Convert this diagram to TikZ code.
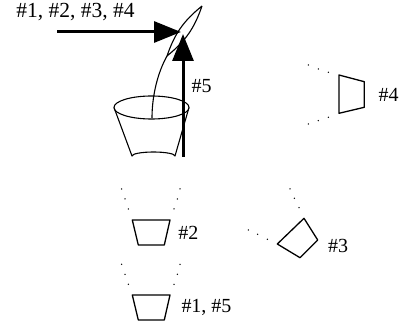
\documentclass[tikz,border=0pt]{standalone}
\usepackage{fontspec}
\setmainfont{Liberation Serif}
\usetikzlibrary{arrows.meta}
\begin{document}
\begin{tikzpicture}[x=1pt,y=-1pt,
  lbl/.style={inner sep=0pt,anchor=base,font=\fontsize{20}{22}\selectfont},
  biglbl/.style={lbl,font=\fontsize{21.5}{24}\selectfont},
  potline/.style={line width=1.3pt,line join=round},
  dotmark/.style={fill=black,radius=0.75},
  bigarrow/.style={line width=3pt,-{Triangle[length=27pt,width=21pt]}}]
\useasboundingbox (0,0) rectangle (400,329);

% plant: leaf and stem
\coordinate (leaftip) at (202,6);
\coordinate (leafbase) at (167,56);
\coordinate (stemfoot) at (152,118);
\draw[line width=1.1pt,fill=white] (leaftip) to[bend left=16] (leafbase) to[bend left=16] (leaftip);
\draw[line width=1.1pt] (leafbase) .. controls (158,72) and (152,95) .. (stemfoot);

% pot
\coordinate (rimL) at (114,107.5);
\coordinate (rimR) at (189,107.5);
\draw[line width=1.1pt] (151.5,107.5) ellipse[x radius=37.5,y radius=11.5];
\draw[line width=1.1pt,line join=round] (rimL) -- (132,156) arc[start angle=180,end angle=360,x radius=21.5,y radius=4] -- (rimR);

% incident light arrows
\coordinate (hstart) at (57,32);
\coordinate (hend) at (181,32);
\coordinate (vstart) at (183,157);
\coordinate (vend) at (183,34);
\draw[bigarrow] (hstart) -- (hend);
\draw[bigarrow] (vstart) -- (vend);
\node[biglbl] (t1234) at (75.5,17.5) {\#1, \#2, \#3, \#4};
\node[lbl] (t5) at (201.5,93) {\#5};

% pot #2 (seen from above)
\draw[potline] (132.3,220) -- (170,220) -- (164.3,245) -- (138.3,245) -- cycle;
\foreach \p in {(121.7,189),(125,199),(128.3,209),(180,189),(177.3,199),(174,209)}
  \fill[dotmark] \p circle;
\node[lbl] (t2) at (188.5,240) {\#2};

% pot #1, #5
\draw[potline] (132.3,295) -- (170,295) -- (164.3,320) -- (138.3,320) -- cycle;
\foreach \p in {(121.7,264.3),(125,274.3),(128.3,284.3),(180,264.3),(177.3,274.3),(174,284.3)}
  \fill[dotmark] \p circle;
\node[lbl] (t15) at (206.5,313) {\#1, \#5};

% pot #3 (tilted)
\draw[potline] (304,218.3) -- (317.7,240) -- (300,257.7) -- (277.3,244) -- cycle;
\foreach \p in {(290,189),(294.3,198.3),(299,207.7),(248.3,230),(257.7,234.3),(267.3,239.3)}
  \fill[dotmark] \p circle;
\node[lbl] (t3) at (338,253) {\#3};

% pot #4 (side view)
\draw[potline] (339,75) -- (364.3,81.7) -- (364.3,107.3) -- (339,113.3) -- cycle;
\foreach \p in {(308.3,65),(318.3,69),(328.3,72.3),(308.3,124),(318.3,120.7),(328.3,117.3)}
  \fill[dotmark] \p circle;
\node[lbl] (t4) at (388.5,102) {\#4};
\end{tikzpicture}
\end{document}
